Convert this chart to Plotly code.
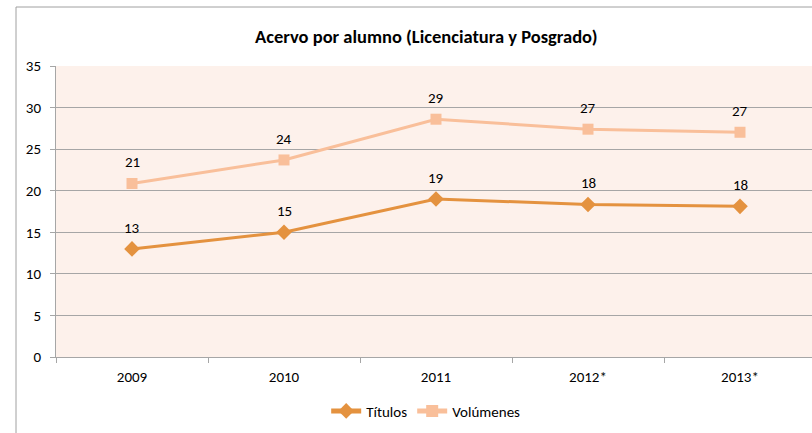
import plotly.graph_objects as go

# Collection per student, by year
years = ["2009", "2010", "2011", "2012*", "2013*"]
titulos = [13.0, 15.0, 19.0, 18.35, 18.12]
volumenes = [20.87, 23.7, 28.6, 27.4, 27.03]

FONT = "Carlito, Lato, sans-serif"
C_TIT = "#E4923F"
C_VOL = "#F9BF9A"
GRID = "#A6A6A6"

fig = go.Figure()
fig.add_trace(go.Scatter(
    x=years, y=titulos, name="Títulos", mode="lines+markers",
    line=dict(color=C_TIT, width=3),
    marker=dict(symbol="diamond", size=12, color=C_TIT),
))
fig.add_trace(go.Scatter(
    x=years, y=volumenes, name="Volúmenes", mode="lines+markers",
    line=dict(color=C_VOL, width=3),
    marker=dict(symbol="square", size=11, color=C_VOL),
))

# Value labels above each point (x given as category index)
for series in (titulos, volumenes):
    for i, v in enumerate(series):
        fig.add_annotation(x=i, y=v, text=f"{v:.0f}", showarrow=False,
                           yshift=21, xanchor="center", yanchor="middle",
                           font=dict(family=FONT, size=15, color="#000000"))

# Outer chart frame (left and top edges visible)
fig.add_shape(type="rect", xref="paper", yref="paper",
              x0=-0.0529, x1=1.2, y0=-0.6, y1=1.2027,
              line=dict(color="#A0A0A0", width=1), layer="below")

fig.add_annotation(text="<b>Acervo por alumno (Licenciatura y Posgrado)</b>",
                   xref="paper", yref="paper", x=0.489, y=1.0997,
                   showarrow=False, xanchor="center", yanchor="middle",
                   font=dict(family=FONT, size=18.5, color="#000000"))

fig.update_layout(
    width=812, height=433,
    margin=dict(l=56, r=0, t=66, b=76),
    paper_bgcolor="#FFFFFF", plot_bgcolor="#FDF1EB",
    font=dict(family=FONT, size=15, color="#000000"),
    showlegend=True,
    legend=dict(orientation="h", x=0.489, xanchor="center",
                y=-0.186, yanchor="middle",
                font=dict(family=FONT, size=15), itemwidth=30,
                itemsizing="constant",
                tracegroupgap=0, bgcolor="rgba(0,0,0,0)"),
    xaxis=dict(type="category", range=[-0.5, 4.5 - 4 / 152],
               showline=True, linecolor=GRID, linewidth=1,
               ticks="outside", tickson="boundaries", ticklen=5,
               tickcolor=GRID, showgrid=False, zeroline=False,
               ticklabelstandoff=6,
               tickfont=dict(family=FONT, size=15), fixedrange=True),
    yaxis=dict(range=[0, 35], dtick=5, tick0=0,
               showline=True, linecolor=GRID, linewidth=1,
               ticks="outside", ticklen=5, tickcolor=GRID,
               showgrid=True, gridcolor=GRID, gridwidth=1,
               zeroline=False, ticklabelstandoff=6,
               tickfont=dict(family=FONT, size=15),
               fixedrange=True),
)

fig.write_html("out.html")
